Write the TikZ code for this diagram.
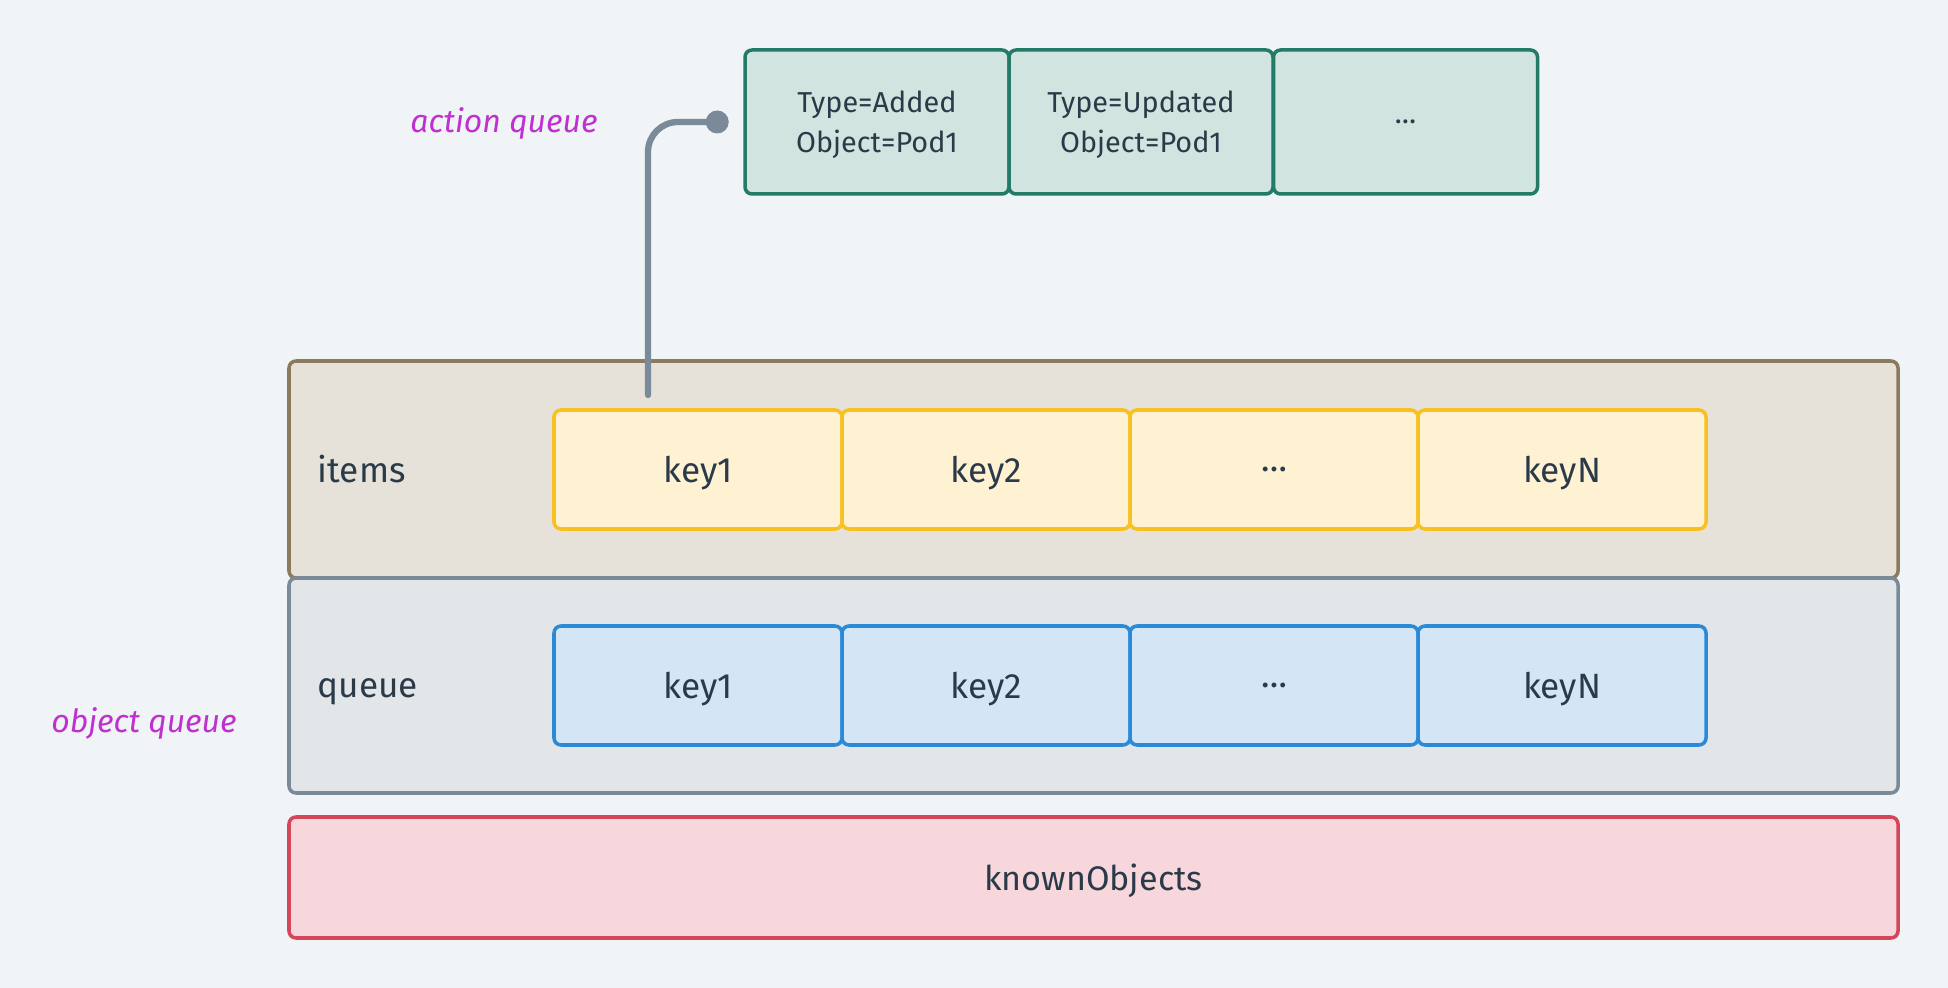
\documentclass[tikz,border=0pt]{standalone}
\usepackage{fontspec}
\setmainfont{Fira Sans}
\usetikzlibrary{positioning,calc}

\definecolor{bgcol}{HTML}{F0F4F7}
\definecolor{txtcol}{HTML}{2A3A48}
\definecolor{notecol}{HTML}{C030D0}
\definecolor{actfill}{HTML}{D1E4DF}
\definecolor{actline}{HTML}{237A66}
\definecolor{itemfill}{HTML}{E6E2DA}
\definecolor{itemline}{HTML}{8C7A5C}
\definecolor{queuefill}{HTML}{E2E6E9}
\definecolor{queueline}{HTML}{7B8A99}
\definecolor{knownfill}{HTML}{F7D7DC}
\definecolor{knownline}{HTML}{D4475A}
\definecolor{keyyfill}{HTML}{FEF2D3}
\definecolor{keyyline}{HTML}{F8C020}
\definecolor{keybfill}{HTML}{D4E6F6}
\definecolor{keybline}{HTML}{2B8AD8}

\begin{document}
\begin{tikzpicture}[
    box/.style={draw, line width=1pt, rounded corners=2pt, inner sep=0pt,
        text=txtcol, font=\fontsize{10}{12}\selectfont},
    outer/.style={box, minimum width=16.09cm, font=\fontsize{9.7}{12}\selectfont},
    keybox/.style={box, minimum width=2.88cm, minimum height=1.19cm, text depth=0pt},
    actbox/.style={box, draw=actline, fill=actfill, minimum width=2.64cm,
        minimum height=1.44cm, align=center, text depth=0pt,
        font=\fontsize{8.2}{11.3}\selectfont},
    note/.style={text=notecol, font=\fontsize{9.1}{11}\selectfont\itshape},
    conn/.style={draw=queueline, line width=1.8pt, line cap=round, rounded corners=0.3cm}
]
    \fill[bgcol] (0,0) rectangle (19.48,-9.88);
    \useasboundingbox (0,0) rectangle (19.48,-9.88);

    % action queue
    \node[actbox] (act1) at (8.77,-1.22) {Type=Added\\Object=Pod1};
    \node[actbox] (act2) at (11.41,-1.22) {Type=Updated\\Object=Pod1};
    \node[actbox] (act3) at (14.055,-1.22) {\ldots};
    \node[note] (actnote) at (5.04,-1.23) {action queue};

    % object queue
    \node[outer, draw=itemline, fill=itemfill, minimum height=2.17cm] (items) at (10.935,-4.695) {};
    \node[outer, draw=queueline, fill=queuefill, minimum height=2.15cm] (queue) at (10.935,-6.855) {};
    \node[outer, draw=knownline, fill=knownfill, minimum height=1.21cm, text depth=0pt] (known) at (10.935,-8.775) {knownObjects};
    \node[box, draw=none, anchor=base west] (itemslbl) at (3.16,-4.83) {items};
    \node[box, draw=none, anchor=base west] (queuelbl) at (3.16,-6.98) {queue};
    \node[note] (objnote) at (1.44,-7.23) {object queue};

    \foreach \k [count=\i] in {key1,key2,\ldots,keyN}{
        \node[keybox, draw=keyyline, fill=keyyfill] (items\i) at ({5.54+2.88*\i-1.44},-4.695) {\k};
        \node[keybox, draw=keybline, fill=keybfill] (queue\i) at ({5.54+2.88*\i-1.44},-6.855) {\k};
    }

    % link from items to action queue
    \coordinate (dot) at ($(act1.west)+(-0.26,0)$);
    \coordinate (tail) at (6.48,-3.95);
    \draw[conn] (dot) -| (tail);
    \fill[queueline] (dot) circle (0.115);
\end{tikzpicture}
\end{document}
